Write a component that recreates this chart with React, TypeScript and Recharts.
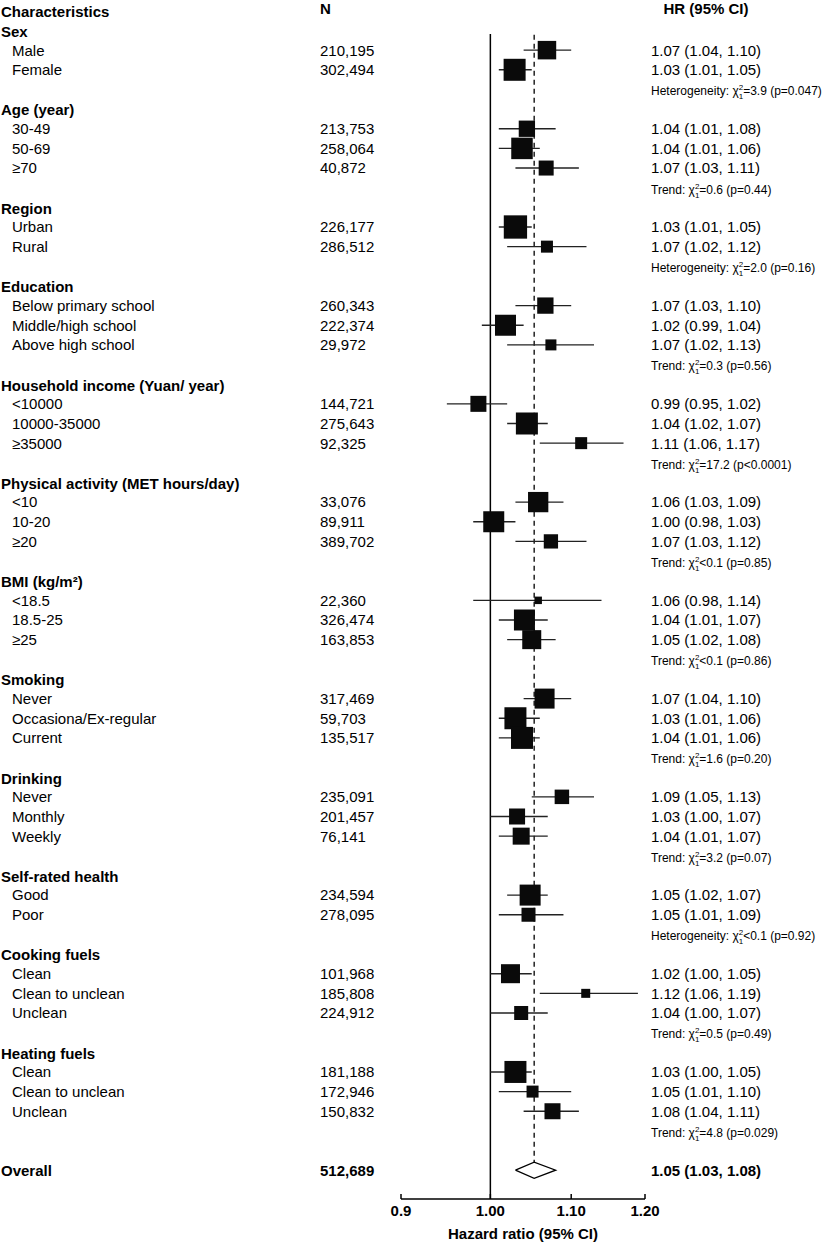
import React from 'react';
import {
  ScatterChart, Scatter, XAxis, YAxis, ErrorBar, ReferenceLine,
} from 'recharts';

const FONT = '"Liberation Sans", Arial, Helvetica, sans-serif';

// groups and their subgroups
const groupNames = [
  'Sex', 'Age (year)', 'Region', 'Education', 'Household income (Yuan/ year)',
  'Physical activity (MET hours/day)', 'BMI (kg/m²)', 'Smoking', 'Drinking',
  'Self-rated health', 'Cooking fuels', 'Heating fuels',
];
const subgroupLabels = [
  ['Male', 'Female'],
  ['30-49', '50-69', '≥70'],
  ['Urban', 'Rural'],
  ['Below primary school', 'Middle/high school', 'Above high school'],
  ['<10000', '10000-35000', '≥35000'],
  ['<10', '10-20', '≥20'],
  ['<18.5', '18.5-25', '≥25'],
  ['Never', 'Occasiona/Ex-regular', 'Current'],
  ['Never', 'Monthly', 'Weekly'],
  ['Good', 'Poor'],
  ['Clean', 'Clean to unclean', 'Unclean'],
  ['Clean', 'Clean to unclean', 'Unclean'],
];
const nCounts = [
  [210195, 302494],
  [213753, 258064, 40872],
  [226177, 286512],
  [260343, 222374, 29972],
  [144721, 275643, 92325],
  [33076, 89911, 389702],
  [22360, 326474, 163853],
  [317469, 59703, 135517],
  [235091, 201457, 76141],
  [234594, 278095],
  [101968, 185808, 224912],
  [181188, 172946, 150832],
];
const hrEstimates = [
  [1.069, 1.029],
  [1.044, 1.038, 1.068],
  [1.030, 1.069],
  [1.067, 1.018, 1.074],
  [0.986, 1.044, 1.113],
  [1.058, 1.004, 1.074],
  [1.058, 1.041, 1.050],
  [1.066, 1.030, 1.038],
  [1.088, 1.032, 1.037],
  [1.048, 1.046],
  [1.024, 1.119, 1.037],
  [1.030, 1.051, 1.076],
];
const ciLower = [
  [1.04, 1.01],
  [1.01, 1.01, 1.03],
  [1.01, 1.02],
  [1.03, 0.99, 1.02],
  [0.95, 1.02, 1.06],
  [1.03, 0.98, 1.03],
  [0.98, 1.01, 1.02],
  [1.04, 1.01, 1.01],
  [1.05, 1.00, 1.01],
  [1.02, 1.01],
  [1.00, 1.06, 1.00],
  [1.00, 1.01, 1.04],
];
const ciUpper = [
  [1.10, 1.05],
  [1.08, 1.06, 1.11],
  [1.05, 1.12],
  [1.10, 1.04, 1.13],
  [1.02, 1.07, 1.17],
  [1.09, 1.03, 1.12],
  [1.14, 1.07, 1.08],
  [1.10, 1.06, 1.06],
  [1.13, 1.07, 1.07],
  [1.07, 1.09],
  [1.05, 1.19, 1.07],
  [1.05, 1.10, 1.11],
];
// relative weights (box area)
const boxWeights = [
  [342, 484],
  [266, 462, 225],
  [543, 144],
  [266, 441, 121],
  [256, 484, 144],
  [412, 441, 204],
  [56, 441, 361],
  [400, 484, 484],
  [210, 256, 289],
  [441, 196],
  [361, 81, 196],
  [484, 144, 256],
];
const testNames = [
  'Heterogeneity', 'Trend', 'Heterogeneity', 'Trend', 'Trend', 'Trend',
  'Trend', 'Trend', 'Trend', 'Heterogeneity', 'Trend', 'Trend',
];
const testStats = [
  '=3.9 (p=0.047)', '=0.6 (p=0.44)', '=2.0 (p=0.16)', '=0.3 (p=0.56)',
  '=17.2 (p<0.0001)', '<0.1 (p=0.85)', '<0.1 (p=0.86)', '=1.6 (p=0.20)',
  '=3.2 (p=0.07)', '<0.1 (p=0.92)', '=0.5 (p=0.49)', '=4.8 (p=0.029)',
];
const overallN = 512689;
const overallHr = 1.053;
const overallLo = 1.03;
const overallHi = 1.08;

const xTicks = [0.9, 1.0, 1.1, 1.2];

type Row = {
  y: number;
  kind: 'title' | 'group' | 'item' | 'note' | 'overall';
  label?: string;
  n?: number;
  hr?: number;
  lo?: number;
  hi?: number;
  w?: number;
  test?: string;
  stat?: string;
};

const rows: Row[] = [{ y: -1, kind: 'title' }];
let r = 0;
groupNames.forEach((g, gi) => {
  rows.push({ y: r++, kind: 'group', label: g });
  subgroupLabels[gi].forEach((s, si) => {
    rows.push({
      y: r++, kind: 'item', label: s, n: nCounts[gi][si],
      hr: hrEstimates[gi][si], lo: ciLower[gi][si], hi: ciUpper[gi][si], w: boxWeights[gi][si],
    });
  });
  rows.push({ y: r++, kind: 'note', test: testNames[gi], stat: testStats[gi] });
});
const overallRow = r + 1;
rows.push({ y: overallRow, kind: 'overall', label: 'Overall', n: overallN, hr: overallHr, lo: overallLo, hi: overallHi });

const points = rows
  .filter((d) => d.kind === 'item')
  .map((d) => ({ hr: d.hr, row: d.y, w: d.w, err: [d.hr! - d.lo!, d.hi! - d.hr!] }));

const DIAMOND_H = 0.41;
const diamond = [
  { hr: overallLo, row: overallRow },
  { hr: overallHr, row: overallRow - DIAMOND_H },
  { hr: overallHi, row: overallRow },
  { hr: overallHr, row: overallRow + DIAMOND_H },
  { hr: overallLo, row: overallRow },
];

const Y_MIN = -1.552;
const Y_MAX = 59.466;

const fmt = (v: number) => v.toFixed(2);
const hrText = (d: Row) => `${fmt(d.hr!)} (${fmt(d.lo!)}, ${fmt(d.hi!)})`;

const COL_GROUP = 1;
const COL_ITEM = 12;
const COL_N = 320;
const COL_HR = 651;

function RowTick(props: any) {
  const { y, payload } = props;
  const d = rows.find((row) => row.y === payload.value);
  if (!d) return null;
  const base = { fontFamily: FONT, fill: '#000', fontSize: 15 };
  if (d.kind === 'title') {
    return (
      <g>
        <text x={COL_GROUP} y={y + 1} dy="0.36em" {...base} fontWeight="bold">Characteristics</text>
        <text x={COL_N} y={y - 2.2} dy="0.36em" {...base} fontWeight="bold">N</text>
        <text x={706} y={y - 2.2} dy="0.36em" {...base} fontWeight="bold" textAnchor="middle">HR (95% CI)</text>
      </g>
    );
  }
  if (d.kind === 'group') {
    return <text x={COL_GROUP} y={y + 1} dy="0.36em" {...base} fontWeight="bold">{d.label}</text>;
  }
  if (d.kind === 'note') {
    return (
      <text x={COL_HR} y={y + 1.5} dy="0.36em" fontFamily={FONT} fill="#000" fontSize={12}>
        {d.test}: χ
        <tspan fontSize={8} dy={-5}>2</tspan>
        <tspan fontSize={8} dx={-4.45} dy={9}>1</tspan>
        <tspan fontSize={12} dy={-4}>{d.stat}</tspan>
      </text>
    );
  }
  const weight = d.kind === 'overall' ? 'bold' : 'normal';
  return (
    <g>
      <text x={d.kind === 'overall' ? COL_GROUP : COL_ITEM} y={y} dy="0.36em" {...base} fontWeight={weight}>{d.label}</text>
      <text x={COL_N} y={y} dy="0.36em" {...base} fontWeight={weight}>{d.n!.toLocaleString('en-US')}</text>
      <text x={COL_HR} y={y} dy="0.36em" {...base} fontWeight={weight}>{hrText(d)}</text>
    </g>
  );
}

function BoxShape(props: any) {
  const { cx, cy, payload } = props;
  const s = Math.sqrt(payload.w);
  return <rect x={cx - s / 2} y={cy - s / 2} width={s} height={s} fill="#0a0a0a" />;
}

export default function App() {
  return (
    <div style={{ position: 'absolute', left: 0, top: 0, width: 825, height: 1243, background: '#fff' }}>
      <ScatterChart width={825} height={1243} margin={{ top: 0, right: 180, bottom: 0, left: 0 }}>
        <XAxis
          dataKey="hr"
          type="number"
          scale="log"
          domain={[0.9, 1.2]}
          allowDataOverflow
          ticks={xTicks}
          interval={0}
          tickFormatter={(v: number) => (v < 1 ? v.toFixed(1) : v.toFixed(2))}
          height={44}
          axisLine={{ stroke: '#000', strokeWidth: 1.5 }}
          tickLine={{ stroke: '#000', strokeWidth: 1.5 }}
          tickSize={-5}
          tickMargin={11}
          tick={{ fill: '#000', fontSize: 15, fontWeight: 'bold', fontFamily: FONT }}
          label={{ value: 'Hazard ratio (95% CI)', position: 'insideBottom', offset: 4, fill: '#000', fontSize: 15, fontWeight: 'bold', fontFamily: FONT }}
        />
        <YAxis
          dataKey="row"
          type="number"
          domain={[Y_MIN, Y_MAX]}
          allowDataOverflow
          reversed
          width={401}
          ticks={rows.map((d) => d.y)}
          interval={0}
          axisLine={false}
          tickLine={false}
          tick={<RowTick />}
        />
        <ReferenceLine
          segment={[{ x: 1, y: 0.18 }, { x: 1, y: Y_MAX }]}
          stroke="#000"
          strokeWidth={1.5}
        />
        <ReferenceLine
          segment={[{ x: overallHr, y: 0.22 }, { x: overallHr, y: overallRow - DIAMOND_H }]}
          stroke="#000"
          strokeWidth={1.3}
          strokeDasharray="5 4"
        />
        <Scatter data={points} shape={<BoxShape />} isAnimationActive={false}>
          <ErrorBar dataKey="err" direction="x" width={0} stroke="#222" strokeWidth={1.4} isAnimationActive={false} />
        </Scatter>
        <Scatter
          data={diamond}
          line={{ stroke: '#000', strokeWidth: 1.3 }}
          lineType="joint"
          shape={() => <g />}
          isAnimationActive={false}
        />
      </ScatterChart>
    </div>
  );
}
